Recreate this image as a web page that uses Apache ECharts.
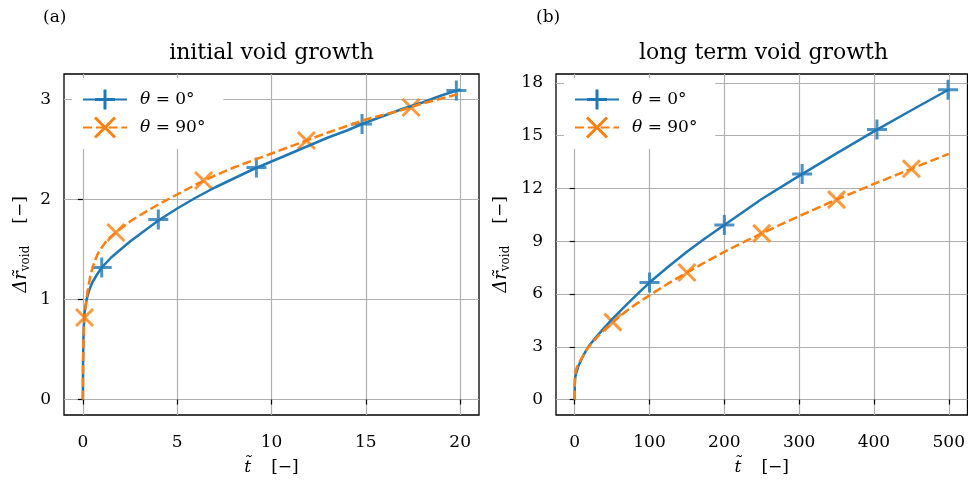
<!DOCTYPE html>
<html>
<head>
<meta charset="utf-8">
<script src="https://cdn.jsdelivr.net/npm/echarts@6/dist/echarts.min.js"></script>
<style>
  html, body { margin: 0; padding: 0; background: #fff; }
  #main { width: 968px; height: 481px; }
</style>
</head>
<body>
<div id="main"></div>
<script>
// (a) initial void growth  -- t̃ vs Δr̃_void
var tA0  = [0, 0.01, 0.03, 0.06, 0.1, 0.2, 0.35, 0.5, 0.75, 1, 1.5, 2, 2.5, 3, 4, 5, 6, 7, 8, 9, 10, 11, 12, 13, 14, 15, 16, 17, 18, 19, 20];
var rA0  = [0, 0.35, 0.6, 0.78, 0.88, 1.0, 1.1, 1.17, 1.25, 1.32, 1.42, 1.5, 1.58, 1.65, 1.79, 1.91, 2.02, 2.12, 2.21, 2.30, 2.38, 2.46, 2.54, 2.62, 2.69, 2.77, 2.84, 2.91, 2.97, 3.04, 3.10];
var tA90 = [0, 0.01, 0.03, 0.06, 0.09, 0.15, 0.25, 0.4, 0.6, 0.8, 1, 1.3, 1.75, 2.5, 3, 4, 5, 6, 7, 8, 9, 10, 11, 12, 13, 14, 15, 16, 17, 18, 19, 20];
var rA90 = [0, 0.35, 0.58, 0.74, 0.82, 0.94, 1.08, 1.24, 1.37, 1.46, 1.52, 1.6, 1.67, 1.78, 1.84, 1.95, 2.05, 2.15, 2.24, 2.32, 2.39, 2.46, 2.53, 2.60, 2.67, 2.735, 2.80, 2.85, 2.90, 2.96, 3.01, 3.06];
// marker positions
var mkA0  = [[1.0, 1.32], [4.0, 1.80], [9.2, 2.32], [14.8, 2.755], [19.8, 3.09]];
var mkA90 = [[0.09, 0.82], [1.75, 1.67], [6.4, 2.19], [11.85, 2.59], [17.4, 2.92]];

// (b) long term void growth
var tB0  = [0, 0.1, 0.5, 1, 2, 5, 10, 15, 20, 30, 40, 50, 60, 70, 80, 90, 100, 125, 150, 175, 200, 250, 300, 350, 400, 450, 500];
var rB0  = [0, 0.88, 1.17, 1.32, 1.5, 1.91, 2.38, 2.77, 3.10, 3.62, 4.10, 4.57, 5.0, 5.42, 5.84, 6.25, 6.65, 7.55, 8.4, 9.18, 9.92, 11.4, 12.72, 14.0, 15.25, 16.45, 17.63];
var tB90 = [0, 0.1, 0.5, 1, 2, 5, 10, 15, 20, 30, 40, 51, 60, 70, 80, 90, 100, 125, 150, 175, 200, 225, 250, 300, 350, 400, 450, 500];
var rB90 = [0, 0.82, 1.33, 1.52, 1.72, 2.05, 2.39, 2.78, 3.06, 3.55, 3.98, 4.4, 4.72, 5.06, 5.37, 5.65, 5.92, 6.6, 7.22, 7.82, 8.4, 8.94, 9.45, 10.43, 11.37, 12.26, 13.12, 13.97];
var mkB0  = [[100, 6.65], [200, 9.92], [304, 12.82], [404, 15.35], [499, 17.61]];
var mkB90 = [[51, 4.4], [150, 7.22], [250, 9.45], [350, 11.37], [450, 13.12]];

// ticks
var xTicksA = [0, 5, 10, 15, 20];
var yTicksA = [0, 1, 2, 3];
var xTicksB = [0, 100, 200, 300, 400, 500];
var yTicksB = [0, 3, 6, 9, 12, 15, 18];

var name0 = 'θ = 0°', name90 = 'θ = 90°';
var BLUE = '#1f77b4', ORANGE = '#ff7f0e';
var FONT = "'DejaVu Serif', serif";
var PLUS = 'path://M10,0 L10,20 M0,10 L20,10';
var CROSS = 'path://M0,0 L17,17 M0,17 L17,0';

function zip(a, b) {
    var out = [];
    for (var i = 0; i < a.length; i++) out.push([a[i], b[i]]);
    return out;
}

function xAxisFor(idx, min, max, ticks) {
    return {
        type: 'value', gridIndex: idx, min: min, max: max,
        axisLine: { show: false },
        axisTick: { show: true, length: 5, customValues: ticks, lineStyle: { color: '#000', width: 1.2 } },
        axisLabel: { customValues: ticks, color: '#000', fontFamily: FONT, fontSize: 17, margin: 19 },
        splitLine: { show: true, lineStyle: { color: '#b0b0b0', width: 1.2 } },
        name: '{it|t̃}{b|[−]}',
        nameLocation: 'middle', nameGap: 44,
        nameTextStyle: {
            color: '#000', fontFamily: FONT, fontSize: 17,
            rich: {
                it: { fontFamily: FONT, fontSize: 17, fontStyle: 'italic', color: '#000' },
                b: { fontFamily: FONT, fontSize: 17, color: '#000', padding: [0, 0, 0, 20] }
            }
        }
    };
}

function yAxisFor(idx, min, max, ticks, gap) {
    return {
        type: 'value', gridIndex: idx, min: min, max: max,
        axisLine: { show: false },
        axisTick: { show: true, length: 5, customValues: ticks, lineStyle: { color: '#000', width: 1.2 } },
        axisLabel: { customValues: ticks, color: '#000', fontFamily: FONT, fontSize: 17, margin: 13 },
        splitLine: { show: true, lineStyle: { color: '#b0b0b0', width: 1.2 } },
        name: '{it|Δr̃}{sub|void}{b|[−]}',
        nameLocation: 'middle', nameGap: gap,
        nameTextStyle: {
            color: '#000', fontFamily: FONT, fontSize: 17,
            rich: {
                it: { fontFamily: FONT, fontSize: 18, fontStyle: 'italic', color: '#000', lineHeight: 22 },
                sub: { fontFamily: FONT, fontSize: 12, color: '#000', lineHeight: 12, verticalAlign: 'bottom' },
                b: { fontFamily: FONT, fontSize: 17, color: '#000', padding: [0, 0, 0, 22], lineHeight: 22 }
            }
        }
    };
}

function lineSeries(name, idx, data, color, dashed, symbol, size) {
    return {
        name: name, type: 'line', xAxisIndex: idx, yAxisIndex: idx,
        data: data, showSymbol: false, symbol: symbol, symbolSize: size,
        smooth: false,
        lineStyle: { color: color, width: 2.5, type: dashed ? [9, 3.8] : 'solid' },
        itemStyle: { color: color, borderColor: color, borderWidth: 3 },
        emphasis: { disabled: true }, animation: false
    };
}

function markSeries(idx, data, color, symbol, size) {
    return {
        type: 'scatter', xAxisIndex: idx, yAxisIndex: idx,
        data: data, symbol: symbol, symbolSize: size,
        itemStyle: { color: 'none', borderColor: color, borderWidth: 3 },
        emphasis: { disabled: true }, animation: false
    };
}

function legendFor(left) {
    return {
        orient: 'vertical', left: left, top: 78,
        data: [name0, name90],
        itemWidth: 44, itemHeight: 25, itemGap: 3,
        backgroundColor: '#fff', padding: [9, 18, 9, 10],
        selectedMode: false,
        itemStyle: { color: 'none', borderWidth: 3 },
        formatter: function (n) {
            return n === name0 ? '{i|θ}{n| = 0°}' : '{i|θ}{n| = 90°}';
        },
        textStyle: {
            color: '#000', fontFamily: FONT, fontSize: 17,
            rich: {
                i: { fontFamily: FONT, fontSize: 17, fontStyle: 'italic', color: '#000', padding: [0, 0, 0, 8] },
                n: { fontFamily: FONT, fontSize: 17, color: '#000' }
            }
        }
    };
}

var chart = echarts.init(document.getElementById('main'));
chart.setOption({
    animation: false,
    title: [
        { text: '(a)', left: 43, top: 9, padding: 0, textStyle: { fontFamily: FONT, fontSize: 17, fontWeight: 'normal', color: '#000' } },
        { text: 'initial void growth', left: 271.5, textAlign: 'center', top: 42, padding: 0, textStyle: { fontFamily: FONT, fontSize: 22, fontWeight: 'normal', color: '#000' } },
        { text: '(b)', left: 536, top: 9, padding: 0, textStyle: { fontFamily: FONT, fontSize: 17, fontWeight: 'normal', color: '#000' } },
        { text: 'long term void growth', left: 763.5, textAlign: 'center', top: 42, padding: 0, textStyle: { fontFamily: FONT, fontSize: 22, fontWeight: 'normal', color: '#000' } }
    ],
    grid: [
        { left: 64, top: 74, width: 415, height: 343, show: true, borderColor: '#000', borderWidth: 1.3, backgroundColor: 'transparent' },
        { left: 556, top: 74, width: 415, height: 343, show: true, borderColor: '#000', borderWidth: 1.3, backgroundColor: 'transparent' }
    ],
    xAxis: [xAxisFor(0, -1, 21, xTicksA), xAxisFor(1, -25, 525, xTicksB)],
    yAxis: [yAxisFor(0, -0.155, 3.255, yTicksA, 32), yAxisFor(1, -0.88, 18.51, yTicksB, 44)],
    legend: [legendFor(72), legendFor(564)],
    series: [
        lineSeries(name0, 0, zip(tA0, rA0), BLUE, false, PLUS, 20),
        markSeries(0, mkA0, BLUE, PLUS, 20),
        lineSeries(name90, 0, zip(tA90, rA90), ORANGE, true, CROSS, 17),
        markSeries(0, mkA90, ORANGE, CROSS, 17),
        lineSeries(name0, 1, zip(tB0, rB0), BLUE, false, PLUS, 20),
        markSeries(1, mkB0, BLUE, PLUS, 20),
        lineSeries(name90, 1, zip(tB90, rB90), ORANGE, true, CROSS, 17),
        markSeries(1, mkB90, ORANGE, CROSS, 17)
    ]
});
</script>
</body>
</html>
